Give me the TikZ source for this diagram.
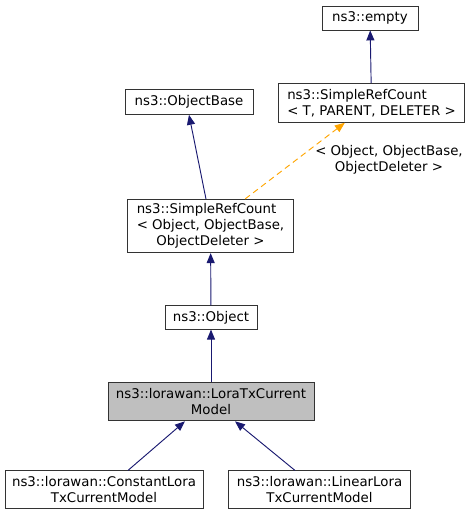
\documentclass[tikz,border=0pt]{standalone}
\usepackage{fontspec}
\usepackage{calc}
\setmainfont{DejaVu Sans}
\usetikzlibrary{arrows.meta}
\definecolor{edgeblue}{HTML}{191970}
\definecolor{tplorange}{HTML}{FFA500}
\definecolor{nodegray}{HTML}{BFBFBF}
% erste Zeile linksbuendig ueber der Breite der zweiten
\newcommand{\firstleft}[2]{\makebox[\widthof{#2}][l]{#1}\\ #2}
\begin{document}
\begin{tikzpicture}[x=0.75pt, y=-0.75pt,
    font=\fontsize{10}{12}\selectfont,
    cls/.style={draw=black!80, fill=white, align=center, inner sep=0pt, line width=0.65pt},
    inh/.style={draw=edgeblue, line width=0.7pt, -{Triangle[length=7.5pt, width=6pt]}},
    tpl/.style={draw=tplorange, line width=0.7pt, dash pattern=on 4.5pt off 3pt, -{Triangle[length=7.5pt, width=6pt]}}]
    \useasboundingbox (0,0) rectangle (470,519);

    % Klassen
    \node[cls, minimum width=72pt, minimum height=18pt] (empty) at (370,18) {ns3::empty};
    \node[cls, minimum width=140pt, minimum height=29pt] (srct) at (371.5,103) {\firstleft{ns3::SimpleRefCount}{< T, PARENT, DELETER >}};
    \node[cls, minimum width=96pt, minimum height=18.5pt] (objbase) at (189,102) {ns3::ObjectBase};
    \node[cls, minimum width=124pt, minimum height=40pt] (srcobj) at (210.5,226) {\firstleft{ns3::SimpleRefCount}{< Object, ObjectBase,}\\ ObjectDeleter >};
    \node[cls, minimum width=69pt, minimum height=17.5pt] (object) at (211,317.5) {ns3::Object};
    \node[cls, fill=nodegray, minimum width=154.5pt, minimum height=29pt] (loratx) at (211,401.5) {ns3::lorawan::LoraTxCurrent\\ Model};
    \node[cls, minimum width=148.5pt, minimum height=28pt] (constant) at (104,489.5) {ns3::lorawan::ConstantLora\\ TxCurrentModel};
    \node[cls, minimum width=137pt, minimum height=28pt] (linear) at (319.5,489.5) {ns3::lorawan::LinearLora\\ TxCurrentModel};

    % Vererbung
    \draw[inh] (srct) -- (empty);
    \draw[inh] ([xshift=-3.4pt]srcobj.north) -- (objbase.south);
    \draw[inh] (object) -- (srcobj);
    \draw[inh] (loratx) -- (object);
    \draw[inh] ([xshift=18pt]constant.north) -- ([xshift=-19.5pt]loratx.south);
    \draw[inh] ([xshift=-18.4pt]linear.north) -- ([xshift=18pt]loratx.south);

    % Template-Instanz
    \draw[tpl] ([xshift=26pt]srcobj.north) -- ([xshift=-20pt]srct.south);
    \node[align=center, inner sep=0pt] (tplargs) at (389,160) {< Object, ObjectBase,\\ ObjectDeleter >};
\end{tikzpicture}
\end{document}
